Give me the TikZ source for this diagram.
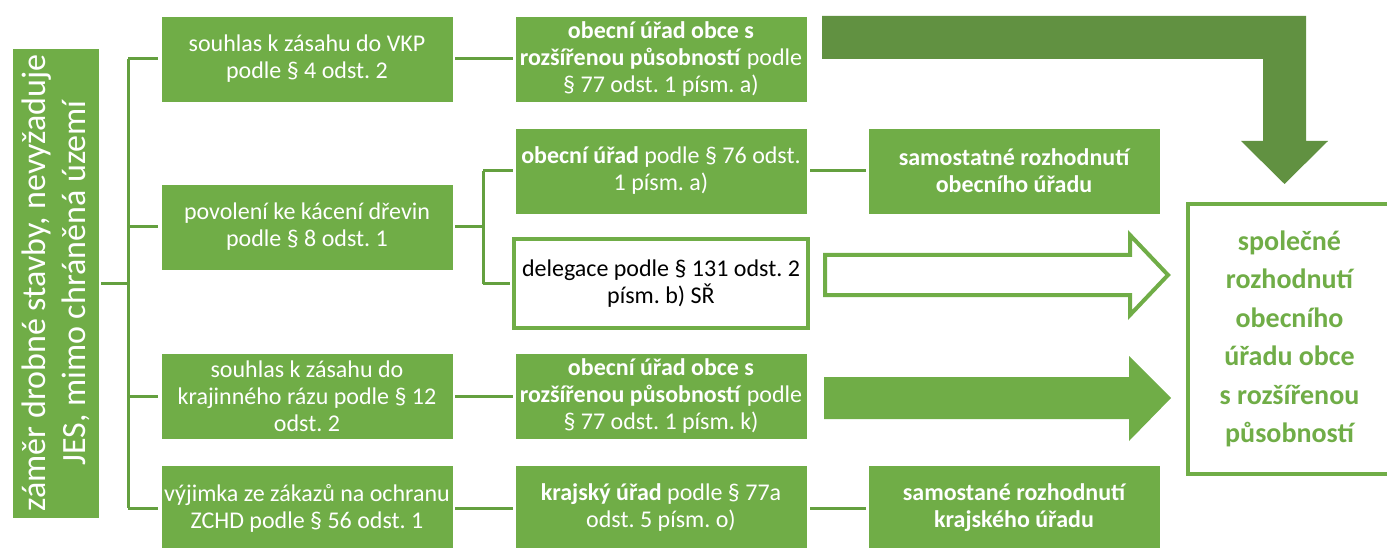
\documentclass[tikz,border=0pt]{standalone}
\usepackage{fontspec}
\setmainfont{Carlito}
\frenchspacing
\definecolor{boxg}{HTML}{70AD47}
\definecolor{darkg}{HTML}{619141}
\definecolor{lineg}{HTML}{64A03F}
\tikzset{
  gbox/.style={rectangle, fill=boxg, draw=white, line width=0.8pt, text=white, align=center,
    inner sep=0pt, minimum width=292pt, minimum height=86pt,
    font=\fontsize{24}{27}\selectfont},
  obox/.style={rectangle, fill=white, draw=boxg, line width=4pt, text=black, align=center,
    inner sep=0pt, font=\fontsize{24}{27}\selectfont},
  conn/.style={draw=lineg, line width=3pt},
}
\begin{document}
\begin{tikzpicture}[x=1pt,y=-1pt]
\useasboundingbox (0,0) rectangle (1387,548);
% left vertical box
\node[gbox, rotate=90, minimum width=470pt, minimum height=87pt,
  font=\fontsize{34}{40}\selectfont] (L) at (55.5,283)
  {záměr drobné stavby, nevyžaduje\\JES, mimo chráněná území};
% column 1
\node[gbox] (c1) at (307,59) {souhlas k zásahu do VKP\\podle § 4 odst. 2};
\node[gbox] (c2) at (307,227) {povolení ke kácení dřevin\\podle § 8 odst. 1};
\node[gbox] (c3) at (307,396) {souhlas k zásahu do\\krajinného rázu podle § 12\\odst. 2};
\node[gbox] (c4) at (307,508) {výjimka ze zákazů na ochranu\\ZCHD podle § 56 odst. 1};
% column 2
\node[gbox] (a) at (661,59) {\textbf{obecní úřad obce s}\\\textbf{rozšířenou působností} podle\\§ 77 odst. 1 písm. a)};
\node[gbox] (b) at (661,171) {\textbf{obecní úřad} podle § 76 odst.\\1 písm. a)};
\node[obox, minimum width=294pt, minimum height=89pt] (c) at (661,283.5) {delegace podle § 131 odst. 2\\písm. b) SŘ};
\node[gbox] (d) at (661,396) {\textbf{obecní úřad obce s}\\\textbf{rozšířenou působností} podle\\§ 77 odst. 1 písm. k)};
\node[gbox] (e) at (661,508) {\textbf{krajský úřad} podle § 77a\\odst. 5 písm. o)};
% column 3
\node[gbox, font=\bfseries\fontsize{24}{27}\selectfont] (s1) at (1014,171) {samostatné rozhodnutí\\obecního úřadu};
\node[gbox, font=\bfseries\fontsize{24}{27}\selectfont] (s2) at (1014,508) {samostané rozhodnutí\\krajského úřadu};
% result box
\node[obox, minimum width=203pt, minimum height=270pt, text=boxg,
  font=\bfseries\fontsize{28}{38.5}\selectfont] (r) at (1289.5,339)
  {společné\\rozhodnutí\\obecního\\úřadu obce\\s rozšířenou\\působností};
% connectors
\coordinate (sp) at (128,283);
\coordinate (fk) at (483,227);
\draw[conn] ([xshift=2pt]L.south) -- (sp);
\draw[conn] (sp |- c1.west) -- (sp |- c4.west);
\foreach \n in {c1,c2,c3,c4}{\draw[conn] (sp |- \n.west) -- ([xshift=-3pt]\n.west);}
\draw[conn] ([xshift=2pt]c1.east) -- ([xshift=-2pt]a.west);
\draw[conn] ([xshift=2pt]c2.east) -- (fk);
\draw[conn] (fk |- b.west) -- (fk |- c.west);
\draw[conn] (fk |- b.west) -- ([xshift=-2pt]b.west);
\draw[conn] (fk |- c.west) -- ([xshift=-2pt]c.west);
\draw[conn] ([xshift=2pt]c3.east) -- ([xshift=-2pt]d.west);
\draw[conn] ([xshift=2pt]c4.east) -- ([xshift=-2pt]e.west);
\draw[conn] ([xshift=3pt]b.east) -- ([xshift=-2pt]s1.west);
\draw[conn] ([xshift=3pt]e.east) -- ([xshift=-2pt]s2.west);
% block arrows
\fill[darkg] (822,16) -- (1306,16) -- (1306,141) -- (1328,141) -- (1284.5,184)
  -- (1241,141) -- (1263,141) -- (1263,59) -- (822,59) -- cycle;
\draw[draw=boxg, fill=white, line width=4pt, line join=miter]
  (825,255) -- (1130,255) -- (1130,235) -- (1168,275) -- (1130,315) -- (1130,295)
  -- (825,295) -- cycle;
\fill[boxg] (824,377) -- (1129,377) -- (1129,356) -- (1171,398) -- (1129,441)
  -- (1129,419) -- (824,419) -- cycle;
\end{tikzpicture}
\end{document}
